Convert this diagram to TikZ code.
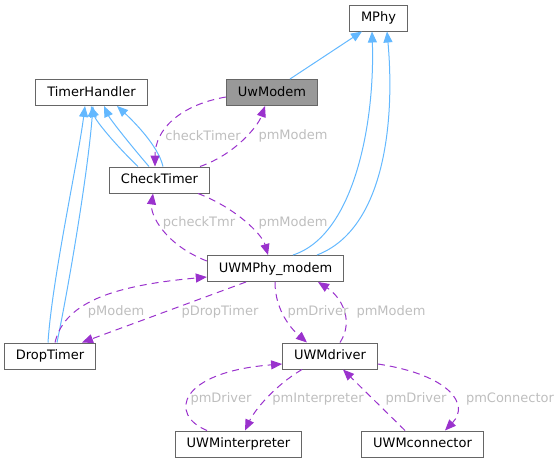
\documentclass[tikz,border=0pt]{standalone}
\usepackage{fontspec}
\setmainfont{DejaVu Sans}
\usepackage{tikz}
\usetikzlibrary{calc,arrows.meta}
\definecolor{inherit}{HTML}{63B8FF}
\definecolor{usage}{HTML}{9A32CD}
\definecolor{edgelabel}{HTML}{BEBEBE}
\definecolor{boxline}{HTML}{666666}
\definecolor{current}{HTML}{999999}

\begin{document}
\begin{tikzpicture}[x=1pt,y=-1pt,line width=1pt,
                    class/.style={draw=boxline,fill=white,inner xsep=11.5pt,minimum height=26pt,
                                  text height=9.5pt,text depth=2.5pt,font=\fontsize{13}{15}\selectfont},
                    lbl/.style={text=edgelabel,inner sep=0pt,font=\fontsize{13}{15}\selectfont},
                    isa/.style={color=inherit,-{Triangle[length=11pt,width=9pt]}},
                    uses/.style={color=usage,dash pattern=on 7pt off 5pt,-{Triangle[length=11pt,width=9pt]}}]
\useasboundingbox (0,0) rectangle (560,463);
\node[class]              (1) at (378.5, 18)             {MPhy};
\node[class]              (2) at (91.5, 92.5)            {TimerHandler};
\node[class,fill=current] (3) at ($ (2) + (180.5, 0) $)  {UwModem};
\node[class]              (4) at ($ (2) + (68, 87.5) $)  {CheckTimer};
\node[class]              (5) at ($ (4) + (116, 88.5) $) {UWMPhy\_modem};
\node[class]              (6) at ($ (5) + (-225.5, 87.5) $) {DropTimer};
\node[class]              (7) at ($ (5) + (54.5, 87.5) $)   {UWMdriver};
\node[class]              (8) at ($ (7) + (-91.5, 88) $)    {UWMinterpreter};
\node[class]              (9) at ($ (7) + (92.5, 88) $)     {UWMconnector};
%
\draw[isa] ($ (3.north) + (18, 0) $) -- ($ (1.south) + (-16.5, 0) $);
\draw[isa] ($ (5.north) + (17.5, 0) $) .. controls +(62, -20) and +(3, 89) .. ($ (1.south) + (-6.5, 0) $);
\draw[isa] ($ (5.north) + (41.5, 0) $) .. controls +(68, -26) and +(8, 89) .. ($ (1.south) + (8.5, 0) $);
\draw[isa] ($ (4.north) + (-21.5, 0) $) .. controls +(-23, -22) and +(5, 15) .. ($ (2.south) + (-0.5, 0) $);
\draw[isa] ($ (4.north) + (-10.5, 0) $) .. controls +(-19, -22) and +(6, 13) .. ($ (2.south) + (12.5, 0) $);
\draw[isa] ($ (4.north) + (3.5, 0) $) .. controls +(-5, -22) and +(13, 12) .. ($ (2.south) + (25.5, 0) $);
\draw[isa] ($ (6.north) + (-2, 0) $) .. controls +(4, -63) and +(-7, 55) .. ($ (2.south) + (-6.5, 0) $);
\draw[isa] ($ (6.north) + (7, 0) $) .. controls +(13, -63) and +(-5, 65) .. ($ (2.south) + (1.5, 0) $);
%
\draw[uses] ($ (3.west) + (0, 4.5) $) .. controls +(-46, 8) and +(0, -37) .. ($ (4.north) + (-4.5, 0) $);
\draw[uses] ($ (4.north) + (40.5, 0) $) .. controls +(35, -12) and +(-7, 20) .. ($ (3.south) + (-7, 0) $);
\draw[uses] ($ (5.west) + (0, -7.5) $) .. controls +(-41, -16) and +(-3, 22) .. ($ (4.south) + (-6.5, 0) $);
\draw[uses] ($ (4.south) + (38.5, 0) $) .. controls +(37, 14) and +(-6, -21) .. ($ (5.north) + (-7.5, 0) $);
\draw[uses] ($ (6.north) + (5, 0) $) .. controls +(10, -43) and +(-86, 8) .. ($ (5.west) + (0, 8.5) $);
\draw[uses] ($ (5.south) + (-29.5, 0) $) -- ($ (6.north) + (32, 0) $);
\draw[uses] ($ (5.south) + (-0.5, 0) $) .. controls +(0, 29) and +(-15, -13) .. ($ (7.north) + (-23, 0) $);
\draw[uses] ($ (7.north) + (10, 0) $) .. controls +(15, -23) and +(22, 14) .. ($ (5.south) + (42.5, 0) $);
\draw[uses] ($ (8.north) + (-31.5, 0) $) .. controls +(-39, -16) and +(-103, 8) .. ($ (7.west) + (0, 8) $);
\draw[uses] ($ (7.south) + (-28, 0) $) .. controls +(-27, 16) and +(10, -21) .. ($ (8.north) + (6.5, 0) $);
\draw[uses] ($ (9.north) + (-17.5, 0) $) -- ($ (7.south) + (13, 0) $);
\draw[uses] ($ (7.east) + (0, 8) $) .. controls +(72, 11) and +(25, -26) .. ($ (9.north) + (22.5, 0) $);
%
\node[lbl] (l1)  at (203, 136) {checkTimer};
\node[lbl] (l2)  at (293, 136) {pmModem};
\node[lbl] (l3)  at (199, 223) {pcheckTmr};
\node[lbl] (l4)  at (293, 223) {pmModem};
\node[lbl] (l5)  at (116, 312) {pModem};
\node[lbl] (l6)  at (220, 312) {pDropTimer};
\node[lbl] (l7)  at (318, 312) {pmDriver};
\node[lbl] (l8)  at (391, 312) {pmModem};
\node[lbl] (l9)  at (221, 399) {pmDriver};
\node[lbl] (l10) at (318, 399) {pmInterpreter};
\node[lbl] (l11) at (416, 399) {pmDriver};
\node[lbl] (l12) at (510, 399) {pmConnector};
\end{tikzpicture}
\end{document}
